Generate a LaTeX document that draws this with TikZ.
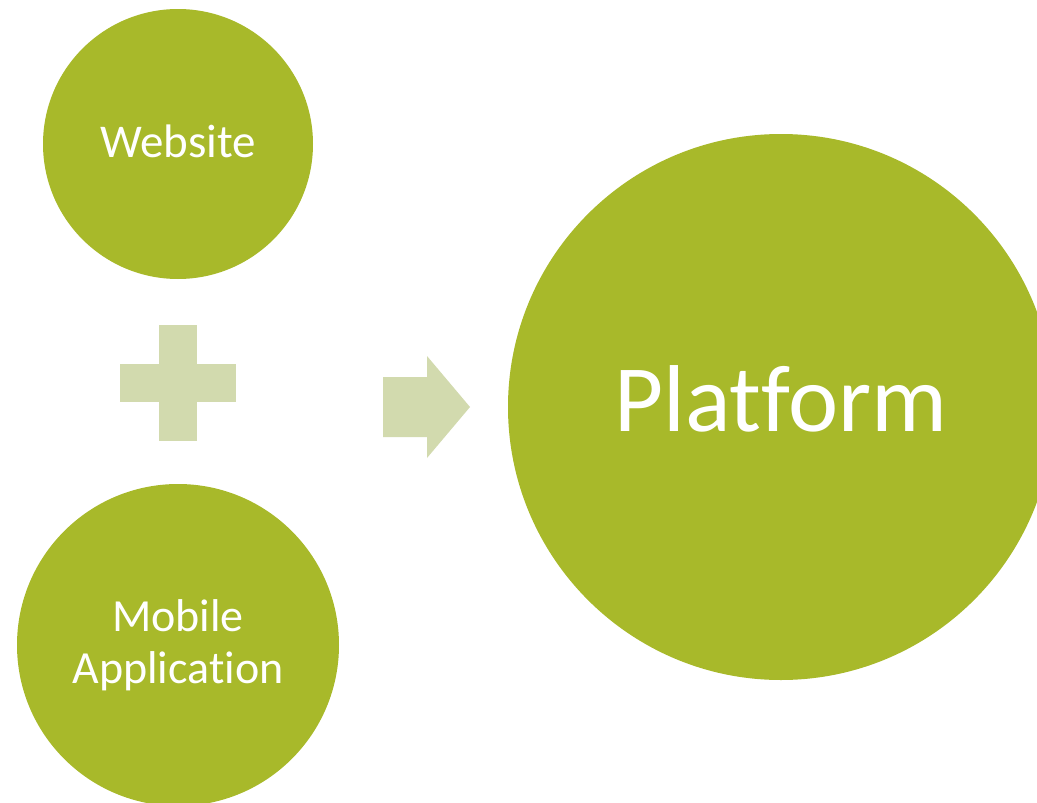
\documentclass[tikz,border=0pt]{standalone}
\usepackage{fontspec}
\setmainfont{Carlito}[Ligatures=NoCommon]
\usetikzlibrary{calc}
\definecolor{leafgreen}{HTML}{A8B92A}
\definecolor{palegreen}{HTML}{D2DAAE}
\tikzset{
  bubble/.style={circle, fill=leafgreen, draw=none, text=white, inner sep=0pt, outer sep=0pt, align=center},
  sign/.style={fill=palegreen, draw=none}
}

\begin{document}
\begin{tikzpicture}[x=1pt, y=-1pt]
  % Fix the frame of the picture
  \useasboundingbox (0,0) rectangle (1037,803);
  \clip (0,0) rectangle (1037,803);

  % The three circles
  \node[bubble, minimum size=270pt, text depth=6pt, font=\fontsize{47}{52}\selectfont] (web) at (178,144) {Website};
  \node[bubble, minimum size=322pt, font=\fontsize{46}{52}\selectfont] (app) at (178,645) {Mobile\\Application};
  \node[bubble, minimum size=546pt, text depth=16pt, font=\fontsize{95}{100}\selectfont] (plat) at (781,407) {Platform};

  % The plus sign between the two small circles
  \coordinate (plus) at (178,383);
  \fill[sign] ($(plus)+(-58,-19)$) rectangle ($(plus)+(58,19)$);
  \fill[sign] ($(plus)+(-19,-58)$) rectangle ($(plus)+(19,58)$);

  % The arrow towards the platform
  \fill[sign] (383,377) -- (427,377) -- (427,356) -- (470,407)
    -- (427,458) -- (427,437) -- (383,437) -- cycle;

\end{tikzpicture}
\end{document}
